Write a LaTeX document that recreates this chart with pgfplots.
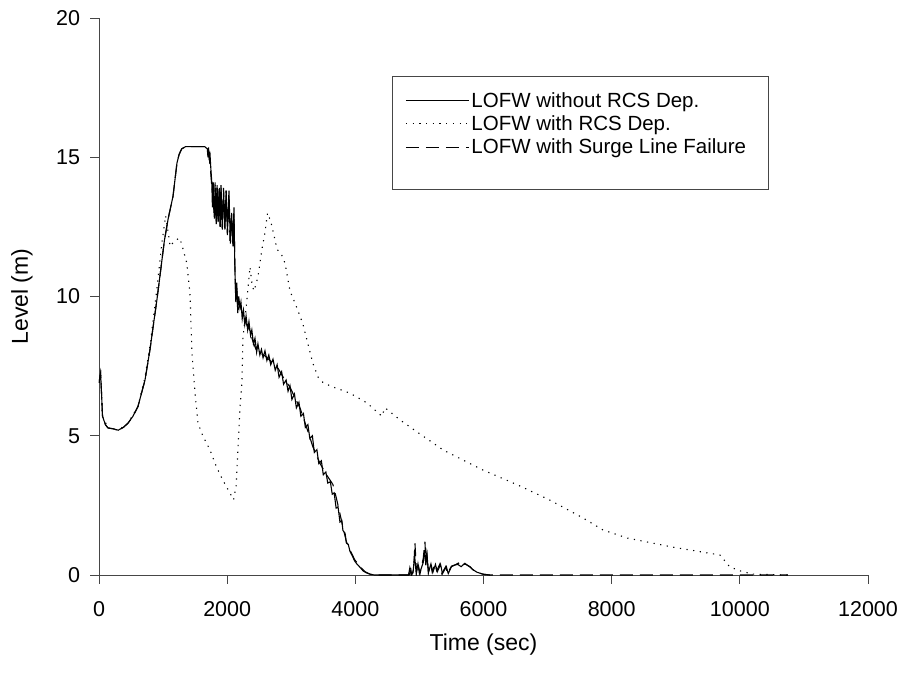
\documentclass[border=0pt]{standalone}
\usepackage{fontspec}
\setmainfont{Liberation Sans}
\usepackage{pgfplots}
\pgfplotsset{compat=1.18}
\definecolor{axgray}{RGB}{70,70,70}
\begin{document}
\begin{tikzpicture}
\begin{axis}[
  scale only axis, width=769pt, height=557pt,
  xmin=0, xmax=12000, ymin=0, ymax=20,
  axis x line*=bottom, axis y line*=left,
  xtick={0,2000,...,12000}, ytick={0,5,...,20},
  minor tick num=0,
  tick align=outside, major tick length=8.5pt,
  axis line style={axgray, line width=0.8pt, -},
  every tick/.style={axgray, line width=0.8pt},
  /pgf/number format/assume math mode=true,
  /pgf/number format/1000 sep={},
  scaled x ticks=false,
  ticklabel style={font=\fontsize{21.5}{23}\selectfont},
  xticklabel style={yshift=-14pt},
  yticklabel style={xshift=-7pt},
  xlabel={Time (sec)}, ylabel={Level (m)},
  label style={font=\fontsize{23}{25}\selectfont},
  xlabel style={at={(axis description cs:0.5,0)}, anchor=center, yshift=-70pt},
  ylabel style={at={(axis description cs:0,0.5)}, anchor=center, yshift=77pt},
  legend style={at={(0.381,0.896)}, anchor=north west, draw=axgray, line width=0.8pt,
    font=\fontsize{20.5}{22}\selectfont, inner xsep=13pt, inner ysep=14pt,
    row sep=3pt,
    /tikz/every even column/.append style={column sep=4pt}},
  legend cell align=left,
  legend image code/.code={\draw[#1] (0pt,0pt) -- (63pt,0pt);},
]
% solid: LOFW without RCS Dep.
\addplot[black, line width=1.1pt] coordinates {
(0,6.9) (25,7.25) (40,6.5) (55,5.7) (100,5.4) (140,5.28) (220,5.25) (300,5.2) (380,5.3) (452,5.45) (530,5.7) (608,6.05) (660,6.5) (718,7.0) (796,8.1) (850,9.0) (905,9.9) (960,10.9) (1020,12.0) (1080,12.8) (1155,13.6) (1217,14.8) (1250,15.1) (1290,15.3) (1350,15.38) (1500,15.38) (1650,15.38) (1690,15.3) (1700,15.0) (1710,15.35) (1720,14.9) (1730,15.2) (1745,14.6) (1760,14.1) (1770,13.2) (1782,14.1) (1800,12.8) (1815,13.9) (1830,12.6) (1843,14.0) (1860,12.7) (1878,13.9) (1893,12.5) (1905,13.9) (1925,12.4) (1945,13.8) (1965,12.4) (1985,13.8) (2005,12.3) (2028,13.8) (2050,11.9) (2070,13.0) (2090,11.8) (2106,13.2) (2120,11.0) (2135,9.8) (2150,10.5) (2165,9.4) (2180,10.0) (2200,9.6) (2215,9.8) (2235,9.2) (2255,9.5) (2275,9.0) (2295,9.3) (2320,8.8) (2340,9.1) (2365,8.6) (2385,8.8) (2410,8.3) (2434,8.5) (2460,8.0) (2480,8.3) (2510,7.9) (2535,8.1) (2560,7.8) (2590,8.05) (2620,7.7) (2650,7.9) (2680,7.55) (2715,7.75) (2750,7.35) (2780,7.55) (2810,7.1) (2850,7.3) (2880,6.85) (2920,7.0) (2950,6.6) (2980,6.8) (3010,6.3) (3050,6.5) (3080,6.0) (3120,6.2) (3150,5.7) (3190,5.8) (3220,5.3) (3260,5.4) (3290,4.9) (3330,5.0) (3360,4.4) (3400,4.5) (3430,4.0) (3470,4.1) (3500,3.6) (3540,3.7) (3570,3.3) (3610,3.35) (3640,2.9) (3670,2.95) (3700,2.4) (3730,2.45) (3760,1.9) (3790,1.95) (3806,1.6) (3840,1.5) (3860,1.15) (3890,1.1) (3916,0.85) (3950,0.7) (3990,0.5) (4030,0.38) (4072,0.28) (4120,0.15) (4170,0.08) (4228,0.03) (4300,0) (4830,0) (4850,0.25) (4870,0) (4900,0.08) (4925,0.7) (4950,0.05) (4977,0.4) (5000,0.05) (5060,0.45) (5085,0.9) (5100,0.35) (5120,0.7) (5140,0.08) (5180,0.4) (5210,0.1) (5250,0.38) (5280,0.12) (5330,0.38) (5360,0.05) (5420,0.3) (5450,0.05) (5500,0.3) (5554,0.36) (5600,0.38) (5650,0.3) (5700,0.4) (5750,0.35) (5788,0.3) (5830,0.2) (5897,0.1) (5990,0.03) (6100,0)
};
\addlegendentry{LOFW without RCS Dep.}
% dotted: LOFW with RCS Dep.
\addplot[black, line width=1.1pt, dash pattern=on 1.2pt off 5.5pt] coordinates {
(0,6.9) (25,7.25) (55,5.7) (140,5.28) (300,5.2) (452,5.45) (608,6.05) (718,7.1) (800,8.3) (900,10.2) (980,11.9) (1040,12.9) (1080,12.3) (1110,11.8) (1180,12.0) (1260,12.1) (1300,11.8) (1370,11.2) (1420,10.1) (1450,8.0) (1500,6.5) (1545,5.45) (1620,5.0) (1730,4.5) (1830,3.9) (1934,3.4) (2030,3.0) (2100,2.7) (2140,3.2) (2170,4.6) (2200,6.0) (2230,6.9) (2246,8.5) (2309,9.9) (2356,11.06) (2390,10.4) (2420,10.2) (2480,10.7) (2543,11.7) (2590,12.3) (2630,13.0) (2680,12.7) (2730,12.2) (2777,11.7) (2850,11.5) (2902,11.2) (2980,10.2) (3058,9.77) (3136,9.3) (3183,9.0) (3260,8.3) (3338,7.6) (3420,7.1) (3500,6.9) (3650,6.75) (3713,6.7) (3916,6.53) (4181,6.18) (4415,5.7) (4460,6.0) (4493,5.95) (4696,5.57) (4961,5.14) (5351,4.52) (5429,4.42) (5990,3.77) (6537,3.23) (7036,2.69) (7551,2.05) (7863,1.62) (8237,1.33) (8955,1.0) (9688,0.72) (9844,0.29) (10000,0.15) (10203,0.03) (10750,0)
};
\addlegendentry{LOFW with RCS Dep.}
% dashed: LOFW with Surge Line Failure
\addplot[black, line width=1.1pt, dash pattern=on 13pt off 7pt] coordinates {
(0,6.9) (25,7.25) (40,6.5) (55,5.7) (100,5.4) (140,5.28) (220,5.25) (300,5.2) (380,5.3) (452,5.45) (530,5.7) (608,6.05) (660,6.5) (718,7.0) (796,8.1) (850,9.0) (905,9.9) (960,10.9) (1020,12.0) (1080,12.8) (1155,13.6) (1217,14.8) (1250,15.1) (1290,15.3) (1350,15.38) (1500,15.38) (1650,15.38) (1700,15.3) (1720,15.0) (1745,14.4) (1765,13.8) (1778,14.0) (1795,12.9) (1812,14.1) (1828,12.7) (1841,13.9) (1858,12.6) (1875,13.9) (1890,12.4) (1903,14.0) (1922,12.45) (1942,13.9) (1962,12.45) (1982,13.8) (2003,12.2) (2025,13.6) (2045,12.0) (2065,12.9) (2085,11.9) (2105,13.0) (2120,11.2) (2135,9.9) (2150,10.4) (2165,9.5) (2200,9.7) (2250,9.3) (2300,9.0) (2350,8.8) (2400,8.4) (2450,8.1) (2500,8.0) (2600,7.85) (2715,7.6) (2800,7.4) (2900,7.0) (2980,6.75) (3060,6.35) (3136,6.0) (3240,5.3) (3338,4.6) (3450,4.0) (3550,3.6) (3650,3.25) (3700,2.8) (3760,2.2) (3806,1.72) (3860,1.2) (3916,0.9) (3990,0.55) (4072,0.3) (4150,0.12) (4228,0.03) (4300,0) (4840,0) (4860,0.3) (4880,0) (4910,0.2) (4930,1.15) (4955,0.1) (4977,0.43) (5010,0.05) (5060,0.6) (5086,1.2) (5100,0.5) (5115,0.79) (5140,0.1) (5170,0.43) (5200,0.1) (5240,0.4) (5270,0.15) (5320,0.4) (5350,0.05) (5410,0.3) (5440,0.05) (5500,0.32) (5554,0.36) (5610,0.43) (5660,0.3) (5710,0.42) (5760,0.33) (5788,0.29) (5840,0.18) (5897,0.1) (5990,0.03) (6100,0) (10750,0)
};
\addlegendentry{LOFW with Surge Line Failure\hspace*{7pt}}
\addlegendimage{empty legend}
\addlegendentry{\rule{0pt}{10pt}}
\end{axis}
\pgfresetboundingbox
\path (-99pt,-100pt) rectangle (806pt,575pt);
\end{tikzpicture}
\end{document}
